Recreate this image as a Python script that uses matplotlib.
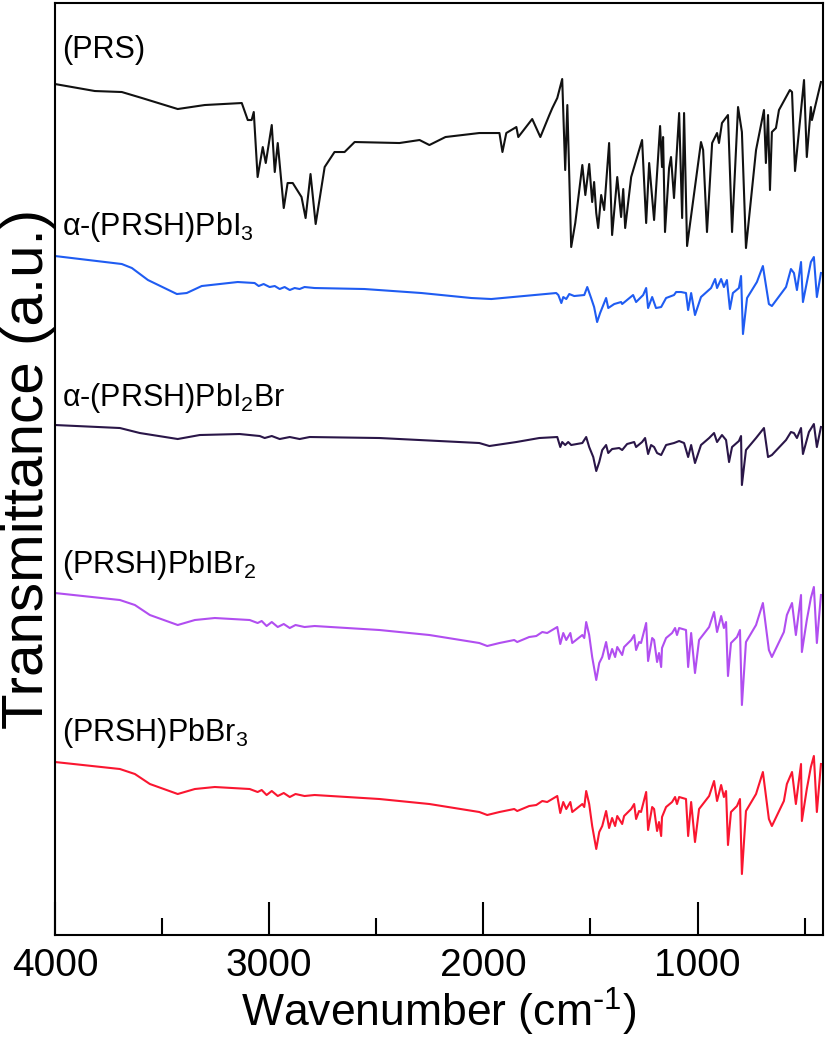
import matplotlib
matplotlib.use("Agg")
import matplotlib.pyplot as plt
from matplotlib.ticker import MultipleLocator

# FTIR spectra (wavenumber in cm-1, transmittance in a.u.)
wn_prs = [4000, 3814, 3688, 3594, 3427, 3301, 3128, 3100, 3082, 3072, 3054, 3030,
          3016, 2988, 2974, 2960, 2932, 2914, 2890, 2849, 2830, 2807, 2783, 2741,
          2695, 2648, 2601, 2392, 2298, 2252, 2177, 2098, 2019, 1925, 1911, 1893,
          1846, 1837, 1772, 1734, 1692, 1678, 1655, 1632, 1618, 1608, 1590, 1571,
          1538, 1524, 1506, 1492, 1483, 1473, 1464, 1450, 1436, 1413, 1399, 1375,
          1357, 1347, 1338, 1310, 1259, 1240, 1226, 1203, 1175, 1166, 1161, 1152,
          1133, 1124, 1110, 1086, 1072, 1063, 1049, 984, 974, 956, 932, 909, 900,
          886, 858, 839, 811, 793, 774, 727, 690, 681, 671, 662, 653, 634, 620,
          569, 559, 545, 503, 490, 471, 466, 424]
t_prs = [86.9, 86.2, 86.1, 85.5, 84.4, 84.8, 85.0, 83.3, 83.3, 84.1, 77.6, 80.6,
         79.0, 82.8, 78.1, 81.0, 74.5, 77.0, 77.0, 75.6, 73.5, 77.9, 72.9, 78.6,
         80.1, 80.1, 81.1, 81.0, 81.3, 80.8, 81.6, 81.8, 82.0, 82.0, 80.1, 82.0,
         82.6, 81.6, 83.4, 81.6, 83.8, 84.5, 85.5, 87.4, 78.3, 84.8, 70.6, 73.0,
         78.8, 75.8, 78.9, 75.1, 77.1, 74.0, 72.5, 75.8, 74.3, 81.0, 71.8, 77.6,
         73.6, 76.4, 72.5, 77.6, 81.3, 73.0, 79.0, 73.3, 82.7, 78.6, 81.6, 72.1,
         78.5, 79.6, 75.5, 84.0, 73.5, 84.0, 70.7, 81.1, 80.3, 72.1, 81.0, 82.0, 81.0,
         83.0, 83.8, 72.1, 84.6, 82.1, 70.5, 80.3, 84.3, 79.0, 83.8, 76.3, 82.1, 82.5, 84.3,
         86.3, 86.1, 78.2, 87.3, 79.6, 84.6, 83.3, 87.1]

wn_pbi3 = [4000, 3688, 3641, 3566, 3431, 3385, 3315, 3147, 3068, 3049, 3026, 2998,
           2974, 2951, 2928, 2904, 2881, 2858, 2835, 2788, 2555, 2289, 2056, 1963,
           1660, 1650, 1636, 1627, 1613, 1599, 1576, 1529, 1515, 1497, 1483, 1469,
           1455, 1427, 1417, 1389, 1357, 1352, 1301, 1287, 1254, 1240, 1231, 1212,
           1194, 1170, 1147, 1110, 1100, 1077, 1054, 1044, 1030, 1012, 984, 937,
           918, 909, 890, 877, 863, 849, 835, 807, 797, 788, 769, 723, 695, 667,
           653, 587, 564, 550, 536, 517, 508, 471, 457, 443, 424]
t_pbi3 = [69.7, 68.9, 68.5, 67.3, 65.9, 66.0, 66.7, 67.1, 67.0, 66.7, 66.9, 66.6,
          66.7, 66.4, 66.6, 66.3, 66.5, 66.4, 66.6, 66.5, 66.4, 66.0, 65.5, 65.4,
          66.0, 65.8, 65.0, 65.6, 65.4, 65.9, 65.7, 65.8, 66.6, 65.5, 64.6, 63.1,
          64.0, 65.5, 64.5, 64.9, 65.1, 64.9, 65.8, 65.1, 65.8, 66.5, 64.5, 65.6,
          64.5, 64.6, 65.5, 65.8, 66.1, 66.1, 66.0, 64.3, 66.0, 63.8, 65.6, 66.5,
          67.4, 66.5, 67.4, 66.6, 67.3, 64.4, 66.0, 66.5, 67.7, 61.9, 65.5, 67.1, 68.7, 64.9,
          64.7, 66.6, 68.4, 68.0, 66.3, 69.1, 65.1, 69.1, 69.6, 65.6, 68.0]

wn_pbi2br = [4000, 3697, 3604, 3427, 3324, 3138, 3044, 3021, 2988, 2951, 2904, 2858,
             2811, 2485, 2019, 1972, 1846, 1739, 1655, 1641, 1632, 1618, 1604, 1590,
             1538, 1520, 1506, 1487, 1473, 1459, 1445, 1427, 1417, 1399, 1366, 1352,
             1329, 1296, 1287, 1259, 1245, 1231, 1217, 1203, 1189, 1170, 1147, 1110,
             1086, 1063, 1044, 1030, 1012, 984, 946, 923, 909, 886, 867, 853, 839,
             807, 797, 793, 774, 727, 690, 671, 653, 587, 564, 550, 536, 517, 508,
             480, 457, 443, 424]
t_pbi2br = [52.8, 52.5, 52.0, 51.4, 51.8, 51.9, 51.7, 51.5, 51.7, 51.4, 51.6, 51.4,
            51.6, 51.5, 51.0, 50.7, 51.1, 51.5, 51.6, 50.6, 51.1, 50.8, 51.1, 50.8,
            51.0, 51.6, 50.6, 49.6, 48.2, 49.1, 50.3, 50.8, 50.0, 50.4, 50.5, 50.3,
            50.9, 51.1, 50.6, 51.1, 51.5, 49.9, 50.8, 50.6, 50.0, 49.8, 50.8, 51.0,
            51.2, 51.0, 49.6, 50.8, 49.0, 50.8, 51.5, 52.0, 51.1, 51.8, 51.3, 49.1, 50.6,
            51.2, 51.7, 46.8, 50.3, 51.5, 52.5, 49.6, 49.8, 51.3, 52.1, 52.0, 51.5, 52.5, 49.9,
            52.1, 52.9, 50.6, 52.6]

wn_pbibr2 = [4000, 3697, 3627, 3557, 3427, 3347, 3254, 3091, 3054, 3035, 3012, 2988,
             2960, 2932, 2904, 2877, 2835, 2788, 2485, 2252, 2019, 1982, 1925, 1856,
             1842, 1786, 1753, 1725, 1702, 1655, 1641, 1627, 1613, 1594, 1585, 1538,
             1529, 1520, 1506, 1492, 1473, 1459, 1445, 1427, 1413, 1399, 1385, 1375,
             1352, 1343, 1310, 1296, 1287, 1273, 1264, 1240, 1231, 1212, 1203, 1189,
             1180, 1170, 1166, 1147, 1119, 1105, 1096, 1086, 1054, 1044, 1030, 1012,
             993, 946, 923, 909, 890, 877, 867, 858, 844, 816, 802, 793, 774, 727,
             695, 667, 653, 597, 583, 559, 541, 517, 513, 490, 471, 457, 443, 424]
t_pbibr2 = [36.0, 35.3, 34.8, 33.8, 32.8, 33.3, 33.5, 33.3, 33.0, 33.2, 32.7, 33.1,
            32.6, 32.9, 32.5, 32.8, 32.6, 32.7, 32.3, 31.8, 31.0, 30.7, 31.0, 31.3,
            31.1, 31.6, 31.7, 32.1, 32.0, 32.6, 30.9, 32.0, 31.3, 32.0, 31.0, 31.8,
            31.5, 33.1, 31.8, 29.6, 27.3, 29.0, 29.6, 31.1, 29.4, 30.4, 29.6, 30.6,
            29.8, 30.6, 31.3, 31.8, 30.3, 31.1, 31.0, 33.0, 29.2, 31.5, 31.3, 29.1,
            30.0, 28.6, 30.5, 31.5, 32.0, 32.5, 31.8, 32.5, 32.3, 28.6, 32.0, 28.0,
            31.3, 32.6, 34.1, 32.1, 33.7, 32.5, 33.1, 27.7, 31.0, 31.6, 32.3, 24.8, 31.1, 32.8,
            35.0, 30.3, 29.6, 32.1, 33.8, 35.0, 31.8, 35.8, 30.1, 33.3, 35.5, 36.6, 31.0, 35.8]

wn_pbbr3 = [4000, 3697, 3627, 3557, 3427, 3347, 3254, 3091, 3054, 3035, 3012, 2988,
            2960, 2932, 2904, 2877, 2835, 2788, 2485, 2252, 2019, 1982, 1925, 1856,
            1842, 1786, 1753, 1725, 1702, 1655, 1641, 1627, 1613, 1594, 1585, 1538,
            1529, 1520, 1506, 1492, 1473, 1459, 1445, 1427, 1413, 1399, 1385, 1375,
            1352, 1343, 1310, 1296, 1287, 1273, 1264, 1240, 1231, 1212, 1203, 1189,
            1180, 1170, 1166, 1147, 1119, 1105, 1096, 1086, 1054, 1044, 1030, 1012,
            993, 946, 923, 909, 890, 877, 867, 858, 844, 816, 802, 793, 774, 727,
            695, 667, 653, 597, 583, 559, 541, 517, 513, 490, 471, 457, 443, 424]
t_pbbr3 = [19.1, 18.4, 17.9, 16.9, 15.9, 16.4, 16.6, 16.4, 16.1, 16.3, 15.8, 16.2,
           15.7, 16.0, 15.6, 15.9, 15.7, 15.8, 15.4, 14.9, 14.1, 13.8, 14.1, 14.4,
           14.2, 14.7, 14.8, 15.2, 15.1, 15.7, 14.0, 15.1, 14.4, 15.1, 14.1, 14.9,
           14.6, 16.2, 14.9, 12.7, 10.4, 12.1, 12.7, 14.2, 12.5, 13.5, 12.7, 13.7,
           12.9, 13.7, 14.4, 14.9, 13.4, 14.2, 14.1, 16.1, 12.3, 14.6, 14.4, 12.2,
           13.1, 11.7, 13.6, 14.6, 15.1, 15.6, 14.9, 15.6, 15.4, 11.7, 15.1, 11.1,
           14.4, 15.7, 17.2, 15.2, 16.8, 15.6, 16.2, 10.8, 14.1, 14.7, 15.4, 7.9, 14.2, 15.9,
           18.1, 13.4, 12.7, 15.2, 16.9, 18.1, 14.9, 18.9, 13.2, 16.4, 18.6, 19.7, 14.1, 18.9]

names = ["(PRS)", r"α-(PRSH)PbI$_3$", r"α-(PRSH)PbI$_2$Br",
         r"(PRSH)PbIBr$_2$", r"(PRSH)PbBr$_3$"]
label_y = [90.3, 72.6, 55.5, 38.8, 22.0]
colors = ["#111111", "#1f5cf2", "#2a1648", "#b14ef0", "#fa1630"]

plt.rcParams["font.family"] = ["Liberation Sans", "DejaVu Sans"]
plt.rcParams["mathtext.default"] = "regular"

fig = plt.figure(figsize=(8.27, 10.44), dpi=100)
ax = fig.add_axes([0.0665, 0.1044, 0.9285, 0.8927])

spectra = [(wn_prs, t_prs), (wn_pbi3, t_pbi3), (wn_pbi2br, t_pbi2br),
           (wn_pbibr2, t_pbibr2), (wn_pbbr3, t_pbbr3)]
for (w, t), c, n, ly in zip(spectra, colors, names, label_y):
    ax.plot(w, t, color=c, lw=1.5)
    ax.text(3965, ly, n, fontsize=22, va="center", ha="left", color="black")

ax.set_xlim(4000, 415)
ax.set_ylim(1.8, 95)
ax.set_yticks([])
ax.xaxis.set_major_locator(MultipleLocator(1000))
ax.xaxis.set_minor_locator(MultipleLocator(500))
ax.tick_params(axis="x", which="major", direction="in", length=24, width=1.5,
               pad=9, labelsize=28)
ax.tick_params(axis="x", which="minor", direction="in", length=12, width=1.5)
for sp in ax.spines.values():
    sp.set_linewidth(1.5)

ax.set_xlabel(r"Wavenumber (cm$^{\text{-}1}$)", fontsize=32, labelpad=2)
ax.set_ylabel("Transmittance (a.u.)", fontsize=42, labelpad=0)

fig.savefig("out.png", dpi=100)
